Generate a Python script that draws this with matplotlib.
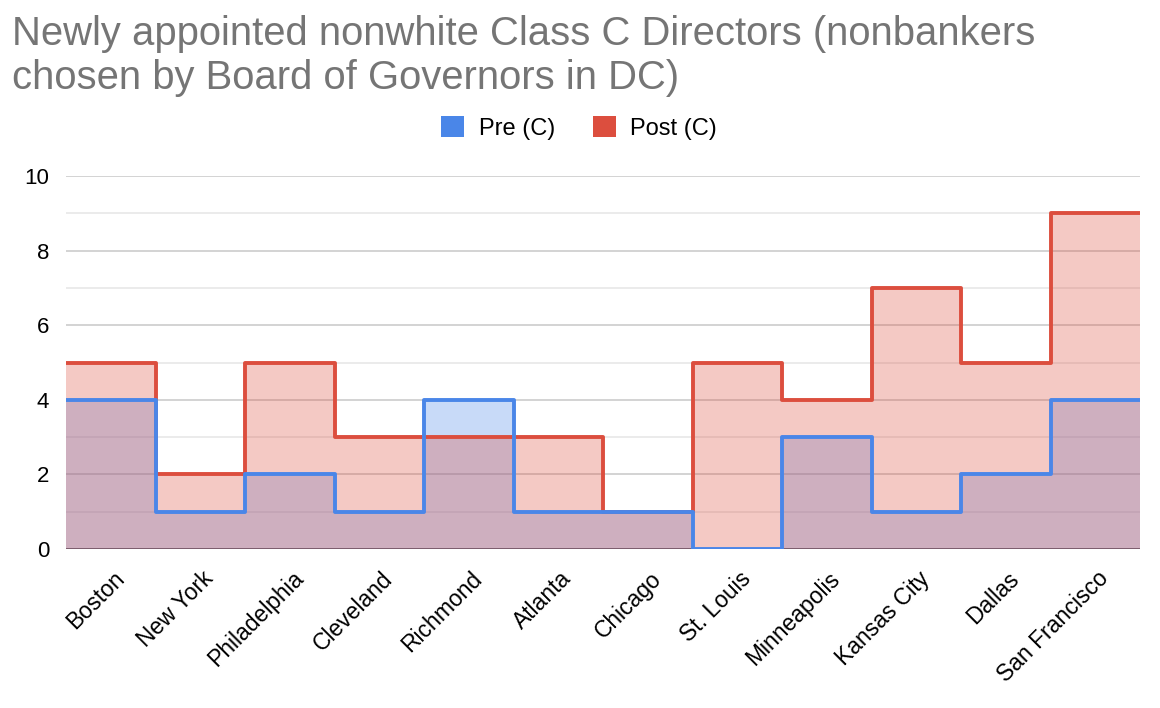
from matplotlib import pyplot as plt
from matplotlib.patches import Patch
import numpy as np

plt.rcParams['font.family'] = ['Liberation Sans', 'DejaVu Sans']

districts = ['Boston', 'New York', 'Philadelphia', 'Cleveland', 'Richmond',
             'Atlanta', 'Chicago', 'St. Louis', 'Minneapolis', 'Kansas City',
             'Dallas', 'San Francisco']
pre_c = [4, 1, 2, 1, 4, 1, 1, 0, 3, 1, 2, 4]
post_c = [5, 2, 5, 3, 3, 3, 1, 5, 4, 7, 5, 9]

blue = '#4a86e8'
red = '#dc4e3e'

fig = plt.figure(figsize=(11.6, 7.08), dpi=100)
ax = fig.add_axes([66 / 1160, 1 - 549 / 708, (1140 - 66) / 1160, (549 - 176) / 708])

n = len(districts)
edges = np.arange(n + 1)
ax.axhline(0, color='#333333', linewidth=1.8, zorder=1)
for vals, c in [(pre_c, blue), (post_c, red)]:
    v = list(vals) + [vals[-1]]
    ax.fill_between(edges, 0, v, step='post', color=c, alpha=0.3, linewidth=0, zorder=2)
for vals, c in [(post_c, red), (pre_c, blue)]:
    v = list(vals) + [vals[-1]]
    ax.plot(edges, v, drawstyle='steps-post', color=c, linewidth=2.8,
            solid_joinstyle='round', zorder=3)

ax.set_xlim(0, n)
ax.set_ylim(0, 10)
ax.set_yticks(range(0, 11, 2))
ax.set_yticks(range(1, 10, 2), minor=True)
ax.grid(axis='y', which='major', color='#cccccc', linewidth=1.2, zorder=0)
ax.grid(axis='y', which='minor', color='#e8e8e8', linewidth=1.2, zorder=0)
ax.set_axisbelow(True)
ax.tick_params(axis='y', which='both', length=0, labelsize=16, pad=12)
ax.tick_params(axis='x', length=0, labelsize=16.5, pad=13)
for s in ax.spines.values():
    s.set_visible(False)

ax.set_xticks(edges[:-1] + 0.52)
ax.set_xticklabels(districts, rotation=45, ha='right', rotation_mode='anchor')

fig.text(12 / 1160, 1 - 15 / 708, 'Newly appointed nonwhite Class C Directors (nonbankers\nchosen by Board of Governors in DC)',
         fontsize=28.8, color='#757575', va='top', linespacing=1.2)

handles = [Patch(facecolor=blue, label='Pre (C)'), Patch(facecolor=red, label='Post (C)')]
fig.legend(handles=handles, loc='center', bbox_to_anchor=(579 / 1160, 1 - 128 / 708),
           ncol=2, frameon=False, fontsize=17, handlelength=1.0, handleheight=1.0,
           columnspacing=1.6, handletextpad=0.6)

fig.savefig('out.png', dpi=100)
